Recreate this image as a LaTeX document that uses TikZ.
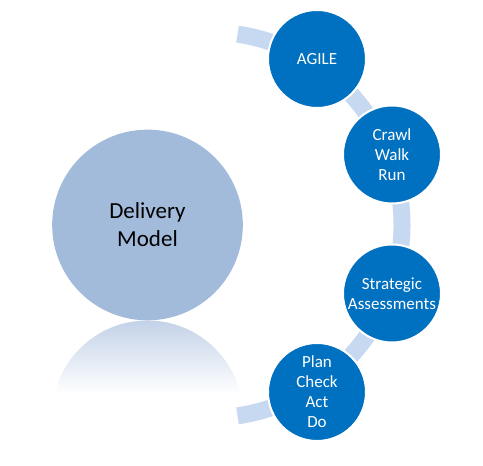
\documentclass[tikz,border=0pt]{standalone}
\usepackage{fontspec}
\setmainfont{Carlito}
\definecolor{stepblue}{HTML}{0070C0}
\definecolor{modelblue}{HTML}{A3BBDB}
\definecolor{bandblue}{HTML}{C6D9F1}
\definecolor{mirrorblue}{HTML}{C3D2E8}
\tikzset{
  stepnode/.style={circle, fill=stepblue, draw=white, line width=1.5pt,
    minimum size=73.5pt, inner sep=0pt, align=center, text=white,
    font=\fontsize{12.75}{15}\selectfont},
  modelnode/.style={circle, fill=modelblue, minimum size=143pt, inner sep=0pt,
    align=center, font=\fontsize{17.25}{21}\selectfont}
}
\begin{document}
\begin{tikzpicture}[x=.75pt,y=.75pt]
  \useasboundingbox (0,0) rectangle (483,466);
  % reflection of the big circle
  \begin{scope}
    \clip (147.5,50) circle (95.5);
    \shade[top color=mirrorblue, bottom color=white] (50,72) rectangle (245,146);
  \end{scope}
  % band behind the steps
  \coordinate (bandcentre) at (209,241);
  \draw[bandblue, line width=12.75pt] (bandcentre) ++(81.5:193) arc[start angle=81.5, end angle=-81.5, radius=193];
  \node[modelnode] (model) at (147.5,241) {Delivery\\Model};
  \node[stepnode] (agile) at (317,407) {AGILE};
  \node[stepnode] (crawl) at (392,311.5) {Crawl\\Walk\\Run};
  \node[stepnode] (strategic) at (392,172.5) {Strategic\\Assessments};
  \node[stepnode] (plan) at (317,74) {Plan\\Check\\Act\\Do};
\end{tikzpicture}
\end{document}
